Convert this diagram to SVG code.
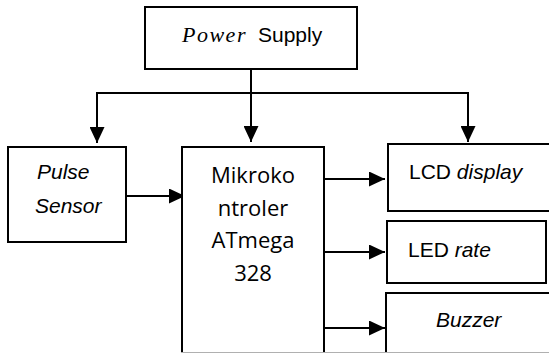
<svg xmlns="http://www.w3.org/2000/svg" width="549" height="353" viewBox="0 0 549 353">
<defs>
<style>
.box{fill:#fff;stroke:#000;stroke-width:2}
.ln{fill:none;stroke:#000;stroke-width:2}
.t{font-family:"Liberation Sans",Arial,sans-serif;font-size:21px;fill:#000}
.i{font-style:italic}
.c{font-family:"Open Sans","Noto Sans",sans-serif;font-size:22px;fill:#000;text-anchor:middle}
</style>
<marker id="ah" viewBox="0 0 16 15" refX="16" refY="7.5" markerWidth="16" markerHeight="15" markerUnits="userSpaceOnUse" orient="auto">
<path d="M0,0 L16,7.5 L0,15 Z" fill="#000"/>
</marker>
</defs>
<rect width="549" height="353" fill="#fff"/>
<g id="connectors">
<line class="ln" x1="251" y1="69" x2="251" y2="142" marker-end="url(#ah)"/>
<polyline class="ln" points="251,93 97,93 97,143" marker-end="url(#ah)"/>
<polyline class="ln" points="251,93 468,93 468,142" marker-end="url(#ah)"/>
<line class="ln" x1="126" y1="196" x2="185" y2="196" marker-end="url(#ah)"/>
<line class="ln" x1="324" y1="179" x2="385" y2="179" marker-end="url(#ah)"/>
<line class="ln" x1="324" y1="252" x2="385" y2="252" marker-end="url(#ah)"/>
<line class="ln" x1="324" y1="328" x2="385" y2="328" marker-end="url(#ah)"/>
</g>
<g id="power-supply">
<rect class="box" x="145" y="7" width="212" height="62"/>
<text class="t" y="42"><tspan x="182" font-family="'Liberation Serif','Times New Roman',serif" font-size="22" font-style="italic" letter-spacing="1.5">Power</tspan><tspan x="258">Supply</tspan></text>
</g>
<g id="pulse-sensor">
<rect class="box" x="8" y="147" width="118" height="95"/>
<text class="t i" x="37" y="179" font-size="20">Pulse</text>
<text class="t i" x="35" y="213" font-size="20">Sensor</text>
</g>
<g id="mikrokontroler">
<rect class="box" x="182" y="147" width="142" height="230"/>
<text class="c" x="253" y="183">Mikroko</text>
<text class="c" x="253" y="216">ntroler</text>
<text class="c" x="253" y="248">ATmega</text>
<text class="c" x="253" y="281">328</text>
</g>
<g id="lcd-display">
<rect class="box" x="388" y="144" width="180" height="67"/>
<text class="t" x="409" y="179">LCD <tspan class="i">display</tspan></text>
</g>
<g id="led-rate">
<rect class="box" x="387" y="221" width="159" height="62"/>
<text class="t" x="408" y="257">LED <tspan class="i">rate</tspan></text>
</g>
<g id="buzzer">
<rect class="box" x="386" y="293" width="180" height="84"/>
<text class="t i" x="436" y="327">Buzzer</text>
</g>
<line x1="181" y1="352.5" x2="549" y2="352.5" stroke="#b0b0b0" stroke-width="1"/>
</svg>
